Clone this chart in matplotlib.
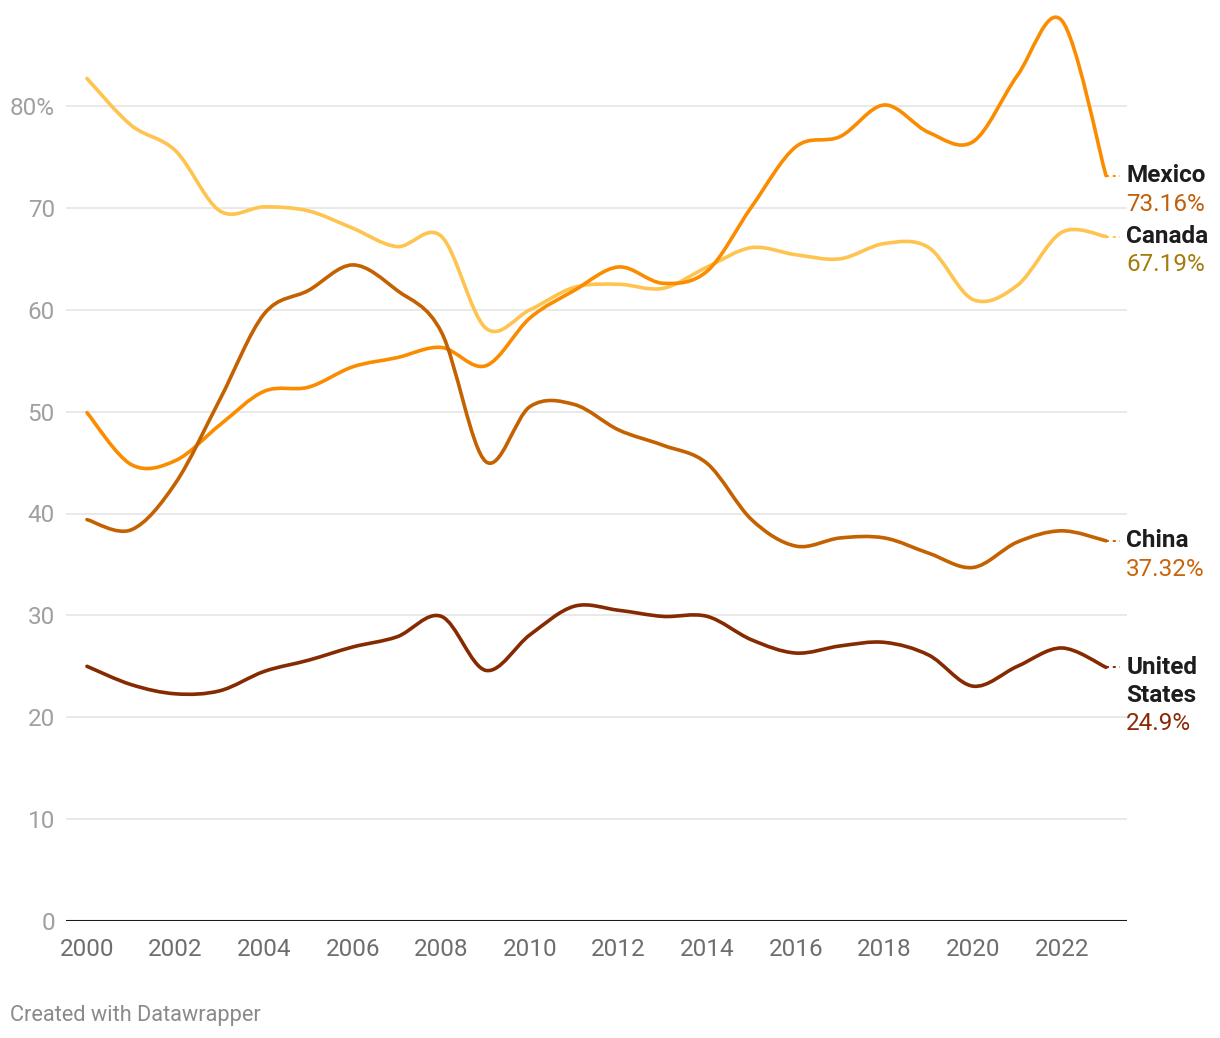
import numpy as np
import matplotlib
matplotlib.use("Agg")
import matplotlib.pyplot as plt
from matplotlib.path import Path
from matplotlib.patches import PathPatch

plt.rcParams['font.family'] = ['Roboto', 'DejaVu Sans']

years = list(range(2000, 2024))

canada = [82.7, 78.1, 75.6, 69.7, 70.1, 69.7, 68.0, 66.2, 67.2, 58.2, 60.0, 62.2,
          62.5, 62.1, 64.2, 66.1, 65.4, 65.0, 66.5, 66.1, 61.0, 62.4, 67.6, 67.19]
mexico = [49.9, 44.8, 45.2, 48.7, 52.0, 52.4, 54.4, 55.3, 56.3, 54.5, 59.2, 61.9,
          64.2, 62.6, 63.8, 70.1, 76.0, 77.0, 80.1, 77.4, 76.5, 83.0, 88.4, 73.16]
china = [39.4, 38.4, 43.0, 51.2, 59.6, 61.9, 64.4, 61.9, 57.8, 45.1, 50.5, 50.7,
         48.2, 46.7, 44.9, 39.4, 36.8, 37.6, 37.6, 36.1, 34.7, 37.2, 38.3, 37.32]
usa = [25.0, 23.2, 22.3, 22.6, 24.5, 25.6, 26.9, 27.9, 29.9, 24.6, 28.1, 30.9,
       30.5, 29.9, 29.9, 27.6, 26.3, 27.0, 27.35, 26.1, 23.05, 25.0, 26.8, 24.9]

series = [
    ("Canada", canada, "#fec44f", "#a47b0c", "67.19%"),
    ("Mexico", mexico, "#fb8c00", "#c0600a", "73.16%"),
    ("China", china, "#c46100", "#c8650a", "37.32%"),
    ("United\nStates", usa, "#862a02", "#8a2a06", "24.9%"),
]

yticks = [0, 10, 20, 30, 40, 50, 60, 70, 80]
ytick_labels = ["0", "10", "20", "30", "40", "50", "60", "70", "80%"]
xticks = list(range(2000, 2023, 2))


def smooth_path(x, y):
    # cardinal (catmull-rom) spline as cubic bezier segments
    x = np.asarray(x, float)
    y = np.asarray(y, float)
    px = np.concatenate([[x[0]], x, [x[-1]]])
    py = np.concatenate([[y[0]], y, [y[-1]]])
    verts = [(x[0], y[0])]
    codes = [Path.MOVETO]
    for i in range(1, len(px) - 2):
        c1 = (px[i] + (px[i + 1] - px[i - 1]) / 6, py[i] + (py[i + 1] - py[i - 1]) / 6)
        c2 = (px[i + 1] - (px[i + 2] - px[i]) / 6, py[i + 1] - (py[i + 2] - py[i]) / 6)
        verts += [c1, c2, (px[i + 1], py[i + 1])]
        codes += [Path.CURVE4] * 3
    return Path(verts, codes)


W, H = 1220, 1038
fig = plt.figure(figsize=(W / 100, H / 100), dpi=100)
ax = fig.add_axes([66 / W, (H - 921) / H, (1127 - 66) / W, (921 - 10) / H])

px_per_unit = (921 - 106) / 80
ax.set_xlim(2000 - 21 / 44.32, 2023 + 21 / 44.32)
ax.set_ylim(0, (921 - 10) / px_per_unit)

for name, vals, col, vcol, vlab in series:
    patch = PathPatch(smooth_path(years, vals), fill=False, edgecolor=col, lw=2.6,
                      capstyle="round", joinstyle="round", zorder=3)
    ax.add_patch(patch)
    ax.plot([years[-1], years[-1] + 0.32], [vals[-1], vals[-1]], color=col, lw=1.4,
            ls=(0, (1.5, 2)), zorder=3, clip_on=False)
    lines = name.split("\n")
    for k, ln in enumerate(lines):
        ax.annotate(ln, xy=(years[-1], vals[-1]), xytext=(14.5, -k * 20.4), textcoords="offset points",
                    ha="left", va="center", fontsize=17.5, fontweight="bold", color="#1d1d1d",
                    annotation_clip=False)
    ax.annotate(vlab, xy=(years[-1], vals[-1]), xytext=(14.5, -len(lines) * 20.4), textcoords="offset points",
                ha="left", va="center", fontsize=17.5, color=vcol, annotation_clip=False)

ax.axhline(0, color="#1a1a1a", lw=1.5, zorder=4)
ax.set_yticks(yticks)
ax.set_yticklabels(ytick_labels)
ax.set_xticks(xticks)
ax.tick_params(axis="y", length=0, pad=8, labelsize=17.5, labelcolor="#a0a0a0")
ax.tick_params(axis="x", length=0, pad=12, labelsize=17.5, labelcolor="#6e6e6e")
ax.yaxis.grid(True, color="#e3e3e3", lw=1.1)
ax.set_axisbelow(True)
for s in ax.spines.values():
    s.set_visible(False)

fig.text(10 / W, 1 - 1015 / H, "Created with Datawrapper", fontsize=15.7, color="#8a8a8a",
         ha="left", va="center")

fig.savefig("out.png", dpi=100)
